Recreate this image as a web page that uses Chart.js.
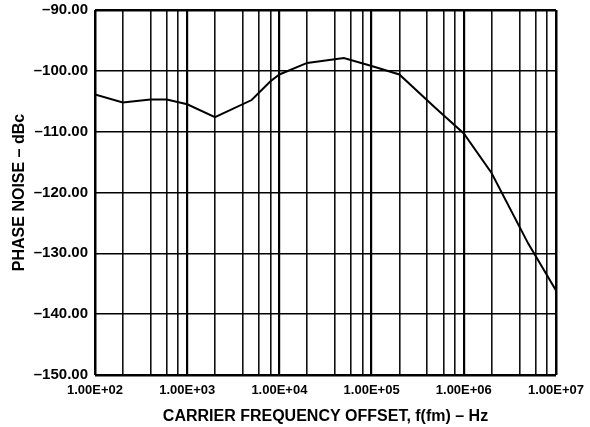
<!DOCTYPE html>
<html>
<head>
<meta charset="utf-8">
<script src="https://cdn.jsdelivr.net/npm/chart.js@4"></script>
<style>
  html, body { margin: 0; padding: 0; background: #fff; }
</style>
</head>
<body>
<canvas id="phaseNoise" width="590" height="427"></canvas>
<script>
// offset frequency (Hz) and phase noise (dBc)
const freqs = [100, 200, 400, 600, 1000, 2000, 5000, 8000, 1e4, 2e4, 5e4, 1e5, 2e5, 5e5, 1e6, 2e6, 5e6, 1e7];
const noise = [-103.9, -105.2, -104.7, -104.7, -105.5, -107.6, -104.8, -101.7, -100.6, -98.7, -97.9, -99.2, -100.6, -106.2, -110.3, -116.8, -128.4, -136.1];

const decades = [1e2, 1e3, 1e4, 1e5, 1e6, 1e7];
const decadeLabels = ["1.00E+02", "1.00E+03", "1.00E+04", "1.00E+05", "1.00E+06", "1.00E+07"];
const minorSteps = [2, 4, 6, 8];
const yTicks = [-150, -140, -130, -120, -110, -100, -90];

const FONT = "'Liberation Sans', Arial, Helvetica, sans-serif";

// grid ticks: every decade plus 2,4,6,8 inside it
function xGridTicks() {
  const out = [];
  decades.forEach((d, i) => {
    out.push({ value: d });
    if (i < decades.length - 1) minorSteps.forEach((m) => out.push({ value: d * m }));
  });
  return out;
}

const ctx = document.getElementById("phaseNoise").getContext("2d");
const chart = new Chart(ctx, {
  type: "line",
  data: {
    datasets: [
      {
        data: freqs.map((f, i) => ({ x: f, y: noise[i] })),
        borderColor: "#000",
        borderWidth: 2,
        pointRadius: 0,
        tension: 0,
        fill: false,
      },
    ],
  },
  options: {
    responsive: false,
    animation: false,
    devicePixelRatio: 1,
    layout: { padding: { top: 10, right: 34, left: 0, bottom: 0 } },
    plugins: { legend: { display: false }, tooltip: { enabled: false } },
    scales: {
      x: {
        type: "logarithmic",
        min: 1e2,
        max: 1e7,
        afterBuildTicks: (scale) => {
          scale.ticks = xGridTicks();
        },
        afterFit: (scale) => {
          scale.height = 52;
          scale.paddingLeft = 0;
          scale.paddingRight = 0;
        },
        border: { display: false },
        grid: {
          drawTicks: false,
          color: (c) => (decades.includes(c.tick.value) ? "#000" : "#111"),
          lineWidth: (c) => {
            const v = c.tick.value;
            if (v === 1e2 || v === 1e7) return 2.5;
            return decades.includes(v) ? 2.2 : 1.6;
          },
        },
        ticks: {
          autoSkip: false,
          maxRotation: 0,
          padding: 8,
          color: "#000",
          font: { family: FONT, size: 13, weight: "bold" },
          callback: (value) => {
            const i = decades.indexOf(value);
            return i >= 0 ? decadeLabels[i] : "";
          },
        },
        title: {
          display: true,
          text: "CARRIER FREQUENCY OFFSET, f(fm) – Hz",
          color: "#000",
          font: { family: FONT, size: 16, weight: "bold" },
          padding: { top: 0, bottom: 1 },
        },
      },
      y: {
        min: -150,
        max: -90,
        afterBuildTicks: (scale) => {
          scale.ticks = yTicks.map((v) => ({ value: v }));
        },
        afterFit: (scale) => {
          scale.width = 95;
          scale.paddingTop = 0;
          scale.paddingBottom = 0;
        },
        border: { display: false },
        grid: {
          drawTicks: false,
          color: "#000",
          lineWidth: (c) => (c.tick.value === -90 || c.tick.value === -150 ? 2.5 : 1.6),
        },
        ticks: {
          padding: 7,
          color: "#000",
          font: { family: FONT, size: 15, weight: "bold" },
          callback: (value) => "–" + Math.abs(value).toFixed(2),
        },
        title: {
          display: true,
          text: "PHASE NOISE – dBc",
          color: "#000",
          font: { family: FONT, size: 16, weight: "bold" },
          padding: { top: 10, bottom: 0 },
        },
      },
    },
  },
});
</script>
</body>
</html>
